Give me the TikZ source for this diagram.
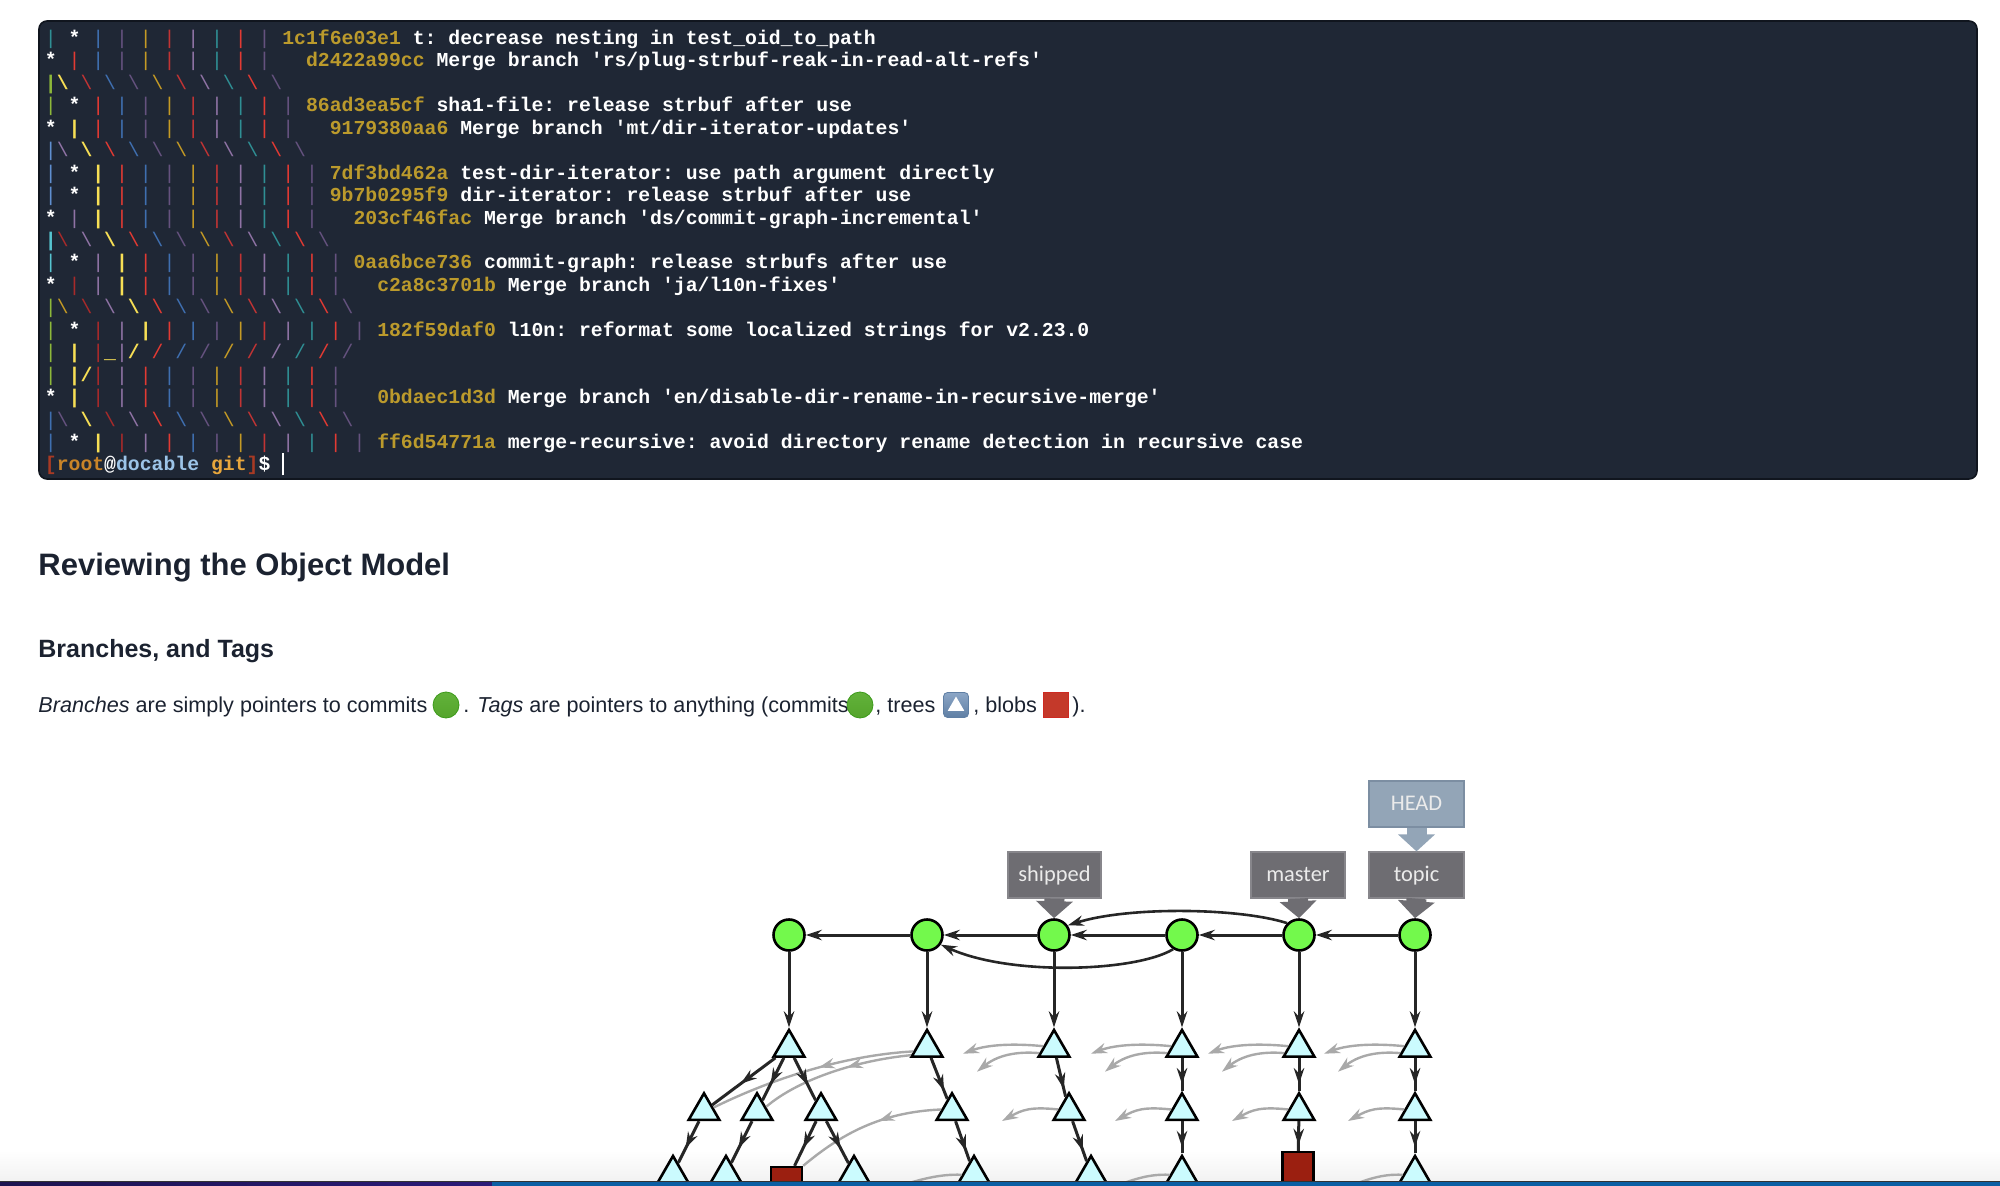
\documentclass[tikz,border=0pt]{standalone}
\usepackage{fontspec}
\usepackage{tikz}
\usetikzlibrary{arrows.meta,calc,decorations.markings,shapes.geometric}
\newfontfamily\termfont{Liberation Mono}
\newfontfamily\pagefont{Liberation Sans}
\newfontfamily\tagfont{Carlito}
\definecolor{termbg}{HTML}{1F2735}
\definecolor{termedge}{HTML}{10151E}
\definecolor{hashgold}{HTML}{BB9A2C}
\definecolor{gteal}{HTML}{2F8F94}
\definecolor{gcyan}{HTML}{56C4D0}
\definecolor{gblue}{HTML}{3F6FB0}
\definecolor{gsky}{HTML}{5F8FD0}
\definecolor{gdim}{HTML}{65527F}
\definecolor{ggold}{HTML}{C49A25}
\definecolor{gred}{HTML}{C23434}
\definecolor{gdark}{HTML}{A82A2A}
\definecolor{gmauve}{HTML}{8F73A5}
\definecolor{gbright}{HTML}{E23A33}
\definecolor{ggreen}{HTML}{8DB83A}
\definecolor{gyellow}{HTML}{F7DF55}
\definecolor{promptred}{HTML}{A83A24}
\definecolor{promptorange}{HTML}{C98428}
\definecolor{promptblue}{HTML}{9CC4E8}
\definecolor{promptgold}{HTML}{E8A63C}
\definecolor{inktext}{HTML}{1B2230}
\definecolor{tagfill}{HTML}{6E6D72}
\definecolor{tagedge}{HTML}{87868B}
\definecolor{headfill}{HTML}{93A5B7}
\definecolor{headedge}{HTML}{7C8EA2}
\definecolor{commitfill}{HTML}{73F94C}
\definecolor{treefill}{HTML}{CBFBFE}
\definecolor{blobfill}{HTML}{9B1F10}
\definecolor{refline}{HTML}{262626}
\definecolor{oldline}{HTML}{A9A9A9}
\definecolor{mojigreen}{HTML}{62B23A}
\definecolor{mojigreenlow}{HTML}{55A52C}
\definecolor{mojigreenedge}{HTML}{3C9A1A}
\definecolor{mojiblue}{HTML}{8CA6C6}
\definecolor{mojibluelow}{HTML}{5F7FA4}
\definecolor{mojired}{HTML}{C4392A}
\definecolor{mojirededge}{HTML}{CE2A22}
\definecolor{barpurple}{HTML}{1C1350}
\definecolor{barviolet}{HTML}{2B1A78}
\definecolor{barblue}{HTML}{0B5EA3}
\newcommand{\grbar}[1]{\textcolor{#1}{\mdseries|}~}
\newcommand{\grbs}[1]{\textcolor{#1}{\mdseries\textbackslash}~}
\newcommand{\grfs}[1]{\textcolor{#1}{\mdseries/}~}
\newcommand{\grybar}{\textcolor{gyellow}{|}~}
\newcommand{\grybs}{\textcolor{gyellow}{\textbackslash}~}
\newcommand{\gryfs}{\textcolor{gyellow}{/}~}
\newcommand{\grstar}{\textcolor{white}{*}~}
\newcommand{\grhash}[1]{\textcolor{hashgold}{#1}~}
\tikzset{
	termline/.style={
		anchor=base west,
		inner sep=0pt,
		text=white,
		font=\termfont\bfseries\fontsize{9.89pt}{11pt}\selectfont\frenchspacing,
	},
	heading/.style={
		anchor=base west,
		inner sep=0pt,
		text=inktext,
		font=\pagefont\bfseries\fontsize{#1}{20pt}\selectfont,
	},
	bodytext/.style={
		anchor=base west,
		inner sep=0pt,
		text=inktext,
		font=\pagefont\fontsize{10.8pt}{12pt}\selectfont,
	},
	commitmoji/.style={
		circle,
		draw=mojigreenedge,
		line width=0.4pt,
		top color=mojigreen,
		bottom color=mojigreenlow,
		minimum size=13pt,
		inner sep=0pt,
	},
	tag/.style={
		rectangle,
		draw=tagedge,
		fill=tagfill,
		line width=0.6pt,
		text=white!92!black,
		font=\tagfont\fontsize{11.2pt}{13pt}\selectfont,
		minimum width=#1,
		minimum height=23pt,
		text height=8.5pt,
		text depth=2pt,
		inner sep=0pt,
	},
	headtag/.style={
		tag=#1,
		draw=headedge,
		fill=headfill,
	},
	tagarrow/.style={
		draw=#1,
		line width=10pt,
		-{Triangle[length=8.5pt,width=18pt]},
	},
	commit/.style={
		circle,
		draw=black,
		fill=commitfill,
		line width=1.3pt,
		minimum size=15.5pt,
		inner sep=0pt,
	},
	tree/.style={
		regular polygon,
		regular polygon sides=3,
		draw=black,
		fill=treefill,
		line width=1.3pt,
		minimum size=17.7pt,
		inner sep=0pt,
	},
	blob/.style={
		rectangle,
		draw=black,
		fill=blobfill,
		line width=1.2pt,
		minimum size=15.5pt,
		inner sep=0pt,
	},
	reflink/.style={
		draw=refline,
		line width=1.5pt,
	},
	oldlink/.style={
		draw=oldline,
		line width=1.2pt,
	},
	midtip/.style={
		postaction={decorate,decoration={markings,mark=at position #1 with {\arrow{>}}}},
	},
}

\begin{document}
\begin{tikzpicture}[x=0.5pt,y=-0.5pt,>={Stealth[length=8pt,width=5.2pt,inset=2.6pt]}]
	\useasboundingbox (0,0) rectangle (2000,1186);
	\fill[top color=white,bottom color=black!5] (0,1150) rectangle (2000,1181);

	% terminal
	\node[draw=termedge,fill=termbg,line width=0.8pt,rounded corners=4pt,minimum width=969pt,minimum height=229pt,inner sep=0pt] (term) at (1008,250) {};
	\node[termline] (row0) at (44.5,44.5) {\grbar{gteal}\grstar\grbar{gblue}\grbar{gdim}\grbar{ggold}\grbar{gred}\grbar{gmauve}\grbar{gteal}\grbar{gbright}\grbar{gdim}\grhash{1c1f6e03e1}t: decrease nesting in test\_oid\_to\_path};
	\node[termline] (row1) at (44.5,67) {\grstar\grbar{gbright}\grbar{gblue}\grbar{gdim}\grbar{ggold}\grbar{gred}\grbar{gmauve}\grbar{gteal}\grbar{gbright}\grbar{gdim}~~\grhash{d2422a99cc}Merge branch 'rs/plug-strbuf-reak-in-read-alt-refs'};
	\node[termline] (row2) at (44.5,89.4) {\textcolor{ggreen}{|}\grybs\grbs{gred}\grbs{gblue}\grbs{gdim}\grbs{ggold}\grbs{gred}\grbs{gmauve}\grbs{gteal}\grbs{gbright}\grbs{gdim}};
	\node[termline] (row3) at (44.5,111.9) {\grbar{ggreen}\grstar\grbar{gbright}\grbar{gblue}\grbar{gdim}\grbar{ggold}\grbar{gred}\grbar{gmauve}\grbar{gteal}\grbar{gbright}\grbar{gdim}\grhash{86ad3ea5cf}sha1-file: release strbuf after use};
	\node[termline] (row4) at (44.5,134.3) {\grstar\grybar\grbar{gbright}\grbar{gblue}\grbar{gdim}\grbar{ggold}\grbar{gred}\grbar{gmauve}\grbar{gteal}\grbar{gbright}\grbar{gdim}~~\grhash{9179380aa6}Merge branch 'mt/dir-iterator-updates'};
	\node[termline] (row5) at (44.5,156.8) {\textcolor{gsky}{\mdseries|}\grbs{gmauve}\grybs\grbs{gbright}\grbs{gblue}\grbs{gdim}\grbs{ggold}\grbs{gred}\grbs{gmauve}\grbs{gteal}\grbs{gbright}\grbs{gdim}};
	\node[termline] (row6) at (44.5,179.2) {\grbar{gsky}\grstar\grybar\grbar{gbright}\grbar{gblue}\grbar{gdim}\grbar{ggold}\grbar{gred}\grbar{gmauve}\grbar{gteal}\grbar{gbright}\grbar{gdim}\grhash{7df3bd462a}test-dir-iterator: use path argument directly};
	\node[termline] (row7) at (44.5,201.7) {\grbar{gsky}\grstar\grybar\grbar{gbright}\grbar{gblue}\grbar{gdim}\grbar{ggold}\grbar{gred}\grbar{gmauve}\grbar{gteal}\grbar{gbright}\grbar{gdim}\grhash{9b7b0295f9}dir-iterator: release strbuf after use};
	\node[termline] (row8) at (44.5,224.1) {\grstar\grbar{gmauve}\grybar\grbar{gbright}\grbar{gblue}\grbar{gdim}\grbar{ggold}\grbar{gred}\grbar{gmauve}\grbar{gteal}\grbar{gbright}\grbar{gdim}~~\grhash{203cf46fac}Merge branch 'ds/commit-graph-incremental'};
	\node[termline] (row9) at (44.5,246.6) {\textcolor{gcyan}{|}\grbs{gdark}\grbs{gmauve}\grybs\grbs{gbright}\grbs{gblue}\grbs{gdim}\grbs{ggold}\grbs{gred}\grbs{gmauve}\grbs{gteal}\grbs{gbright}\grbs{gdim}};
	\node[termline] (row10) at (44.5,269) {\grbar{gcyan}\grstar\grbar{gmauve}\grybar\grbar{gbright}\grbar{gblue}\grbar{gdim}\grbar{ggold}\grbar{gred}\grbar{gmauve}\grbar{gteal}\grbar{gbright}\grbar{gdim}\grhash{0aa6bce736}commit-graph: release strbufs after use};
	\node[termline] (row11) at (44.5,291.5) {\grstar\grbar{gdark}\grbar{gmauve}\grybar\grbar{gbright}\grbar{gblue}\grbar{gdim}\grbar{ggold}\grbar{gred}\grbar{gmauve}\grbar{gteal}\grbar{gbright}\grbar{gdim}~~\grhash{c2a8c3701b}Merge branch 'ja/l10n-fixes'};
	\node[termline] (row12) at (44.5,313.9) {\textcolor{ggreen}{\mdseries|}\grbs{ggold}\grbs{gdark}\grbs{gmauve}\grybs\grbs{gbright}\grbs{gblue}\grbs{gdim}\grbs{ggold}\grbs{gred}\grbs{gmauve}\grbs{gteal}\grbs{gbright}\grbs{gdim}};
	\node[termline] (row13) at (44.5,336.4) {\grbar{ggreen}\grstar\grbar{gdark}\grbar{gmauve}\grybar\grbar{gbright}\grbar{gblue}\grbar{gdim}\grbar{ggold}\grbar{gred}\grbar{gmauve}\grbar{gteal}\grbar{gbright}\grbar{gdim}\grhash{182f59daf0}l10n: reformat some localized strings for v2.23.0};
	\node[termline] (row14) at (44.5,358.8) {\grbar{ggreen}\grybar\textcolor{gdark}{\mdseries|}\textcolor{gyellow}{\_}\textcolor{gmauve}{\mdseries|}\gryfs\grfs{gbright}\grfs{gblue}\grfs{gdim}\grfs{ggold}\grfs{gred}\grfs{gmauve}\grfs{gteal}\grfs{gbright}\grfs{gdim}};
	\node[termline] (row15) at (44.5,381.3) {\grbar{ggreen}\textcolor{gyellow}{|/}\grbar{gdark}\grbar{gmauve}\grbar{gbright}\grbar{gblue}\grbar{gdim}\grbar{ggold}\grbar{gred}\grbar{gmauve}\grbar{gteal}\grbar{gbright}\grbar{gdim}};
	\node[termline] (row16) at (44.5,403.7) {\grstar\grybar\grbar{gdark}\grbar{gmauve}\grbar{gbright}\grbar{gblue}\grbar{gdim}\grbar{ggold}\grbar{gred}\grbar{gmauve}\grbar{gteal}\grbar{gbright}\grbar{gdim}~~\grhash{0bdaec1d3d}Merge branch 'en/disable-dir-rename-in-recursive-merge'};
	\node[termline] (row17) at (44.5,426.2) {\textcolor{gblue}{\mdseries|}\grbs{gdim}\grybs\grbs{gdark}\grbs{gmauve}\grbs{gbright}\grbs{gblue}\grbs{gdim}\grbs{ggold}\grbs{gred}\grbs{gmauve}\grbs{gteal}\grbs{gbright}\grbs{gdim}};
	\node[termline] (row18) at (44.5,448.6) {\grbar{gblue}\grstar\grybar\grbar{gdark}\grbar{gmauve}\grbar{gbright}\grbar{gblue}\grbar{gdim}\grbar{ggold}\grbar{gred}\grbar{gmauve}\grbar{gteal}\grbar{gbright}\grbar{gdim}\grhash{ff6d54771a}merge-recursive: avoid directory rename detection in recursive case};
	\node[termline] (row19) at (44.5,471) {\textcolor{promptred}{[}\textcolor{promptorange}{root}@\textcolor{promptblue}{docable}~\textcolor{promptgold}{git}\textcolor{promptred}{]}\$~\rule[-2.2pt]{0.7pt}{11pt}};

	% page text
	\node[heading=15.5pt] (title) at (38,575) {Reviewing the Object Model};
	\node[heading=12.5pt] (subtitle) at (38,657) {Branches, and Tags};
	\node[bodytext] (line1) at (38,712) {\textit{Branches} are simply pointers to commits};
	\node[commitmoji] (moji1) at (446,705) {};
	\node[bodytext] (line2) at (463,712) {. \textit{Tags} are pointers to anything (commits};
	\node[commitmoji] (moji2) at (860,705) {};
	\node[bodytext] (line3) at (875,712) {, trees};
	\node[draw=mojibluelow,line width=0.4pt,rounded corners=2pt,top color=mojiblue,bottom color=mojibluelow,minimum size=12.5pt,inner sep=0pt] (moji3) at (956,705) {};
	\node[regular polygon,regular polygon sides=3,fill=white,minimum size=9.5pt,inner sep=0pt] (moji3t) at (956,706) {};
	\node[bodytext] (line4) at (973,712) {, blobs};
	\node[draw=mojirededge,fill=mojired,line width=0.5pt,minimum size=12.5pt,inner sep=0pt] (moji4) at (1056,705) {};
	\node[bodytext] (line5) at (1072,712) {).};

	% tags
	\node[tag=46.5pt] (shipped) at (1054.5,875) {shipped};
	\node[tag=47pt] (master) at (1298,875) {master};
	\node[tag=47.5pt] (topic) at (1416.5,875) {topic};
	\node[headtag=47.5pt] (head) at (1416.5,804) {HEAD};

	% commits
	\node[commit] (c1) at (789,935) {};
	\node[commit] (c2) at (927,935) {};
	\node[commit] (c3) at (1054,935) {};
	\node[commit] (c4) at (1182,935) {};
	\node[commit] (c5) at (1299,935) {};
	\node[commit] (c6) at (1415,935) {};
	\draw[tagarrow=headfill] (head.south) -- (topic.north);
	\draw[tagarrow=tagfill] (shipped.south) -- (c3.north);
	\draw[tagarrow=tagfill] (master.south) -- (c5.north);
	\draw[tagarrow=tagfill] (topic.south) -- (c6.north);

	% trees and blobs
	\node[tree] (tree1) at (789,1047.7) {};
	\node[tree] (tree2) at (927,1047.7) {};
	\node[tree] (tree3) at (1054,1047.7) {};
	\node[tree] (tree4) at (1182,1047.7) {};
	\node[tree] (tree5) at (1299,1047.7) {};
	\node[tree] (tree6) at (1415,1047.7) {};
	\node[tree] (sub1a) at (704,1111) {};
	\node[tree] (sub1b) at (757,1111) {};
	\node[tree] (sub1c) at (821,1111) {};
	\node[tree] (sub2) at (952,1111) {};
	\node[tree] (sub3) at (1069,1111) {};
	\node[tree] (sub4) at (1182,1111) {};
	\node[tree] (sub5) at (1299,1111) {};
	\node[tree] (sub6) at (1415,1111) {};
	\node[tree] (leaf1) at (673,1173.7) {};
	\node[tree] (leaf2) at (726,1173.7) {};
	\node[blob] (blob1) at (786.5,1182.5) {};
	\node[tree] (leaf3) at (854,1173.7) {};
	\node[tree] (leaf4) at (974,1173.7) {};
	\node[tree] (leaf5) at (1091,1173.7) {};
	\node[tree] (leaf6) at (1182,1173.7) {};
	\node[blob] (blob2) at (1298,1167.5) {};
	\node[tree] (leaf7) at (1415,1173.7) {};

	% previous-version links
	\foreach \t in {tree3,tree4,tree5,tree6} {
		\coordinate (\t up) at ($(\t)+(-91,6)$);
		\coordinate (\t low) at ($(\t)+(-77,24)$);
		\draw[oldlink,->] (\t.172) .. controls +(-30,-3) and +(24,-9) .. (\t up);
		\draw[oldlink,->] (\t.200) .. controls +(-24,-2) and +(20,-16) .. (\t low);
	}
	\foreach \t in {sub3,sub4,sub5,sub6} {
		\coordinate (\t up) at ($(\t)+(-67,10)$);
		\draw[oldlink,->] (\t.172) .. controls +(-28,-3) and +(20,-11) .. (\t up);
	}
	\draw[oldlink,midtip=0.46] (tree2.195) .. controls (850,1055) and (780,1075) .. (sub1a.20);
	\draw[oldlink,midtip=0.42] (tree2.205) .. controls (860,1060) and (800,1078) .. (sub1b.25);
	\draw[oldlink,midtip=0.42] (sub2.172) .. controls (880,1112) and (840,1135) .. (blob1.north east);
	\coordinate (gone1) at (900,1186);
	\coordinate (gone2) at (1115,1186);
	\coordinate (gone3) at (1349,1186);
	\draw[oldlink] (leaf4.185) .. controls +(-22,-1) and +(18,-6) .. (gone1);
	\draw[oldlink] (leaf6.185) .. controls +(-22,-1) and +(18,-6) .. (gone2);
	\draw[oldlink] (leaf7.185) .. controls +(-22,-1) and +(18,-6) .. (gone3);

	% commit parents
	\draw[reflink,->] (c2) -- (c1);
	\draw[reflink,->] (c3) -- (c2);
	\draw[reflink,->] (c4) -- (c3);
	\draw[reflink,->] (c5) -- (c4);
	\draw[reflink,->] (c6) -- (c5);
	\draw[reflink,line width=1.3pt,->] (c5.135) .. controls (1240,908) and (1130,906) .. (c3.35);
	\draw[reflink,line width=1.3pt,->] (c4.238) .. controls (1135,972) and (1010,976) .. (c2.325);

	% commit to tree
	\draw[reflink,->] (c1) -- (tree1);
	\draw[reflink,->] (c2) -- (tree2);
	\draw[reflink,->] (c3) -- (tree3);
	\draw[reflink,->] (c4) -- (tree4);
	\draw[reflink,->] (c5) -- (tree5);
	\draw[reflink,->] (c6) -- (tree6);

	% inside the trees
	\draw[reflink,midtip=0.55] (tree1) -- (sub1a);
	\draw[reflink,midtip=0.62] (tree1) -- (sub1b);
	\draw[reflink,midtip=0.65] (tree1) -- (sub1c);
	\draw[reflink,midtip=0.8] (tree2) -- (sub2);
	\draw[reflink,midtip=0.8] (tree3) -- (sub3);
	\draw[reflink,midtip=0.8] (tree4) -- (sub4);
	\draw[reflink,midtip=0.8] (tree5) -- (sub5);
	\draw[reflink,midtip=0.8] (tree6) -- (sub6);
	\draw[reflink,midtip=0.65] (sub1a) -- (leaf1);
	\draw[reflink,midtip=0.65] (sub1b) -- (leaf2);
	\draw[reflink,midtip=0.6] (sub1c) -- (blob1);
	\draw[reflink,midtip=0.65] (sub1c) -- (leaf3);
	\draw[reflink,midtip=0.75] (sub2) -- (leaf4);
	\draw[reflink,midtip=0.75] (sub3) -- (leaf5);
	\draw[reflink,midtip=0.8] (sub4) -- (leaf6);
	\draw[reflink,midtip=0.8] (sub5) -- (blob2);
	\draw[reflink,midtip=0.8] (sub6) -- (leaf7);

	% window edge
	\fill[left color=barpurple,right color=barviolet] (0,1181) rectangle (492,1186);
	\fill[barblue] (492,1181) rectangle (2000,1186);
	\draw[black!80,line width=0.4pt] (0,1181) -- (2000,1181);
\end{tikzpicture}
\end{document}
